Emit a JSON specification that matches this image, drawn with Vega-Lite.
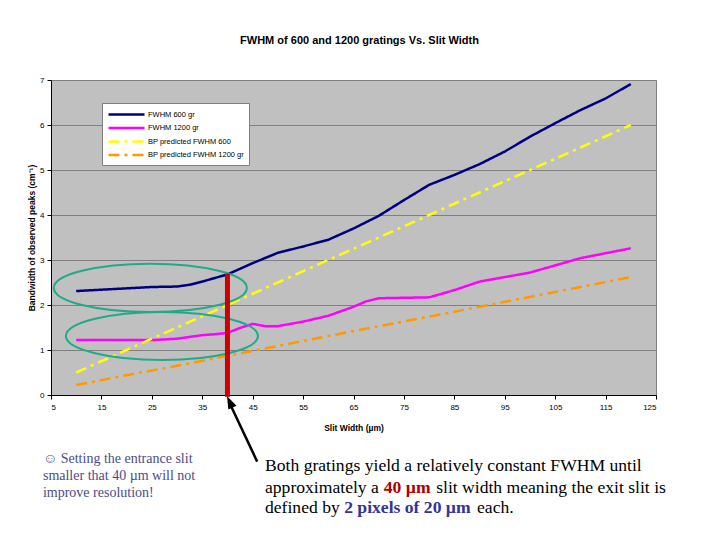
{
  "$schema": "https://vega.github.io/schema/vega-lite/v6.json",
  "width": 605,
  "height": 315,
  "autosize": {"type": "none"},
  "padding": {"left": 51, "top": 80, "right": 64, "bottom": 145},
  "background": "white",
  "config": {
    "font": "Liberation Sans",
    "view": {"fill": "#C0C0C0", "stroke": "#808080", "strokeWidth": 1},
    "axis": {
      "labelFontSize": 8, "labelColor": "black",
      "titleFontSize": 8.5, "titleFontWeight": "bold", "titleColor": "black",
      "domainColor": "black", "tickColor": "black", "tickSize": 4
    }
  },
  "title": {
    "text": "FWHM of 600 and 1200 gratings Vs. Slit Width",
    "fontSize": 11, "fontWeight": "bold", "color": "black",
    "anchor": "middle", "offset": 30, "dx": 6
  },
  "layer": [
    {
      "data": {
        "values": [
          {"series": "FWHM 600 gr", "slit": 10, "fwhm": 2.31},
          {"series": "FWHM 600 gr", "slit": 15, "fwhm": 2.34},
          {"series": "FWHM 600 gr", "slit": 20, "fwhm": 2.37},
          {"series": "FWHM 600 gr", "slit": 25, "fwhm": 2.40},
          {"series": "FWHM 600 gr", "slit": 30, "fwhm": 2.41},
          {"series": "FWHM 600 gr", "slit": 32.5, "fwhm": 2.45},
          {"series": "FWHM 600 gr", "slit": 35, "fwhm": 2.52},
          {"series": "FWHM 600 gr", "slit": 40, "fwhm": 2.68},
          {"series": "FWHM 600 gr", "slit": 45, "fwhm": 2.93},
          {"series": "FWHM 600 gr", "slit": 50, "fwhm": 3.16},
          {"series": "FWHM 600 gr", "slit": 55, "fwhm": 3.30},
          {"series": "FWHM 600 gr", "slit": 60, "fwhm": 3.45},
          {"series": "FWHM 600 gr", "slit": 65, "fwhm": 3.70},
          {"series": "FWHM 600 gr", "slit": 70, "fwhm": 3.98},
          {"series": "FWHM 600 gr", "slit": 75, "fwhm": 4.33},
          {"series": "FWHM 600 gr", "slit": 80, "fwhm": 4.67},
          {"series": "FWHM 600 gr", "slit": 85, "fwhm": 4.89},
          {"series": "FWHM 600 gr", "slit": 90, "fwhm": 5.13},
          {"series": "FWHM 600 gr", "slit": 95, "fwhm": 5.41},
          {"series": "FWHM 600 gr", "slit": 100, "fwhm": 5.74},
          {"series": "FWHM 600 gr", "slit": 105, "fwhm": 6.04},
          {"series": "FWHM 600 gr", "slit": 110, "fwhm": 6.33},
          {"series": "FWHM 600 gr", "slit": 115, "fwhm": 6.59},
          {"series": "FWHM 600 gr", "slit": 120, "fwhm": 6.91},
          {"series": "FWHM 1200 gr", "slit": 10, "fwhm": 1.22},
          {"series": "FWHM 1200 gr", "slit": 15, "fwhm": 1.22},
          {"series": "FWHM 1200 gr", "slit": 20, "fwhm": 1.22},
          {"series": "FWHM 1200 gr", "slit": 25, "fwhm": 1.22},
          {"series": "FWHM 1200 gr", "slit": 30, "fwhm": 1.25},
          {"series": "FWHM 1200 gr", "slit": 32.5, "fwhm": 1.29},
          {"series": "FWHM 1200 gr", "slit": 35, "fwhm": 1.33},
          {"series": "FWHM 1200 gr", "slit": 37.5, "fwhm": 1.35},
          {"series": "FWHM 1200 gr", "slit": 40, "fwhm": 1.38},
          {"series": "FWHM 1200 gr", "slit": 42.5, "fwhm": 1.49},
          {"series": "FWHM 1200 gr", "slit": 45, "fwhm": 1.58},
          {"series": "FWHM 1200 gr", "slit": 47.5, "fwhm": 1.53},
          {"series": "FWHM 1200 gr", "slit": 50, "fwhm": 1.53},
          {"series": "FWHM 1200 gr", "slit": 55, "fwhm": 1.63},
          {"series": "FWHM 1200 gr", "slit": 60, "fwhm": 1.76},
          {"series": "FWHM 1200 gr", "slit": 65, "fwhm": 1.96},
          {"series": "FWHM 1200 gr", "slit": 67.5, "fwhm": 2.08},
          {"series": "FWHM 1200 gr", "slit": 70, "fwhm": 2.15},
          {"series": "FWHM 1200 gr", "slit": 75, "fwhm": 2.16},
          {"series": "FWHM 1200 gr", "slit": 80, "fwhm": 2.17},
          {"series": "FWHM 1200 gr", "slit": 85, "fwhm": 2.33},
          {"series": "FWHM 1200 gr", "slit": 90, "fwhm": 2.52},
          {"series": "FWHM 1200 gr", "slit": 95, "fwhm": 2.62},
          {"series": "FWHM 1200 gr", "slit": 100, "fwhm": 2.72},
          {"series": "FWHM 1200 gr", "slit": 105, "fwhm": 2.88},
          {"series": "FWHM 1200 gr", "slit": 110, "fwhm": 3.04},
          {"series": "FWHM 1200 gr", "slit": 115, "fwhm": 3.15},
          {"series": "FWHM 1200 gr", "slit": 120, "fwhm": 3.26},
          {"series": "BP predicted FWHM 600", "slit": 10, "fwhm": 0.5},
          {"series": "BP predicted FWHM 600", "slit": 20, "fwhm": 1.0},
          {"series": "BP predicted FWHM 600", "slit": 30, "fwhm": 1.5},
          {"series": "BP predicted FWHM 600", "slit": 40, "fwhm": 2.0},
          {"series": "BP predicted FWHM 600", "slit": 50, "fwhm": 2.5},
          {"series": "BP predicted FWHM 600", "slit": 60, "fwhm": 3.0},
          {"series": "BP predicted FWHM 600", "slit": 70, "fwhm": 3.5},
          {"series": "BP predicted FWHM 600", "slit": 80, "fwhm": 4.0},
          {"series": "BP predicted FWHM 600", "slit": 90, "fwhm": 4.5},
          {"series": "BP predicted FWHM 600", "slit": 100, "fwhm": 5.0},
          {"series": "BP predicted FWHM 600", "slit": 110, "fwhm": 5.5},
          {"series": "BP predicted FWHM 600", "slit": 120, "fwhm": 6.0},
          {"series": "BP predicted FWHM 1200 gr", "slit": 10, "fwhm": 0.22},
          {"series": "BP predicted FWHM 1200 gr", "slit": 20, "fwhm": 0.44},
          {"series": "BP predicted FWHM 1200 gr", "slit": 30, "fwhm": 0.65},
          {"series": "BP predicted FWHM 1200 gr", "slit": 40, "fwhm": 0.87},
          {"series": "BP predicted FWHM 1200 gr", "slit": 50, "fwhm": 1.09},
          {"series": "BP predicted FWHM 1200 gr", "slit": 60, "fwhm": 1.31},
          {"series": "BP predicted FWHM 1200 gr", "slit": 70, "fwhm": 1.53},
          {"series": "BP predicted FWHM 1200 gr", "slit": 80, "fwhm": 1.74},
          {"series": "BP predicted FWHM 1200 gr", "slit": 90, "fwhm": 1.96},
          {"series": "BP predicted FWHM 1200 gr", "slit": 100, "fwhm": 2.18},
          {"series": "BP predicted FWHM 1200 gr", "slit": 110, "fwhm": 2.40},
          {"series": "BP predicted FWHM 1200 gr", "slit": 120, "fwhm": 2.62}
        ]
      },
      "mark": {"type": "line", "strokeWidth": 2.5},
      "encoding": {
        "x": {
          "field": "slit", "type": "quantitative",
          "scale": {"domain": [5, 125], "nice": false, "zero": false},
          "axis": {
            "title": "Slit Width (µm)", "grid": false,
            "values": [5, 15, 25, 35, 45, 55, 65, 75, 85, 95, 105, 115, 125],
            "labelPadding": 4, "titlePadding": 12
          }
        },
        "y": {
          "field": "fwhm", "type": "quantitative",
          "scale": {"domain": [0, 7], "nice": false},
          "axis": {
            "title": "Bandwidth of observed peaks (cm⁻¹)",
            "values": [0, 1, 2, 3, 4, 5, 6, 7],
            "grid": true, "gridColor": "#808080", "gridOpacity": 1,
            "labelPadding": 3, "titlePadding": 3
          }
        },
        "color": {
          "field": "series", "type": "nominal",
          "scale": {
            "domain": ["FWHM 600 gr", "FWHM 1200 gr", "BP predicted FWHM 600", "BP predicted FWHM 1200 gr"],
            "range": ["#000080", "#FF00FF", "#FFFF00", "#FF9900"]
          },
          "legend": {
            "title": null, "orient": "none", "legendX": 51, "legendY": 23,
            "fillColor": "white", "strokeColor": "#808080", "padding": 5,
            "labelFontSize": 7.5, "labelColor": "black", "labelOffset": 28, "labelLimit": 200,
            "symbolType": "M -1 0 L 6.2 0", "symbolSize": 100, "symbolStrokeWidth": 2.5, "rowPadding": 1.5
          }
        },
        "strokeDash": {
          "field": "series", "type": "nominal",
          "scale": {
            "domain": ["FWHM 600 gr", "FWHM 1200 gr", "BP predicted FWHM 600", "BP predicted FWHM 1200 gr"],
            "range": [[1, 0], [1, 0], [11, 5, 3, 5], [11, 5, 3, 5]]
          },
          "legend": {
            "title": null, "orient": "none", "legendX": 51, "legendY": 23,
            "fillColor": "white", "strokeColor": "#808080", "padding": 5,
            "labelFontSize": 7.5, "labelColor": "black", "labelOffset": 28, "labelLimit": 200,
            "symbolType": "M -1 0 L 6.2 0", "symbolSize": 100, "symbolStrokeWidth": 2.5, "rowPadding": 1.5
          }
        }
      }
    },
    {
      "data": {"values": [{}]},
      "mark": {"type": "point", "shape": "M 1 0 C 1 0.138 0.552 0.25 0 0.25 C -0.552 0.25 -1 0.138 -1 0 C -1 -0.138 -0.552 -0.25 0 -0.25 C 0.552 -0.25 1 -0.138 1 0 Z", "filled": false, "color": "#22AA88", "strokeWidth": 2, "size": 37249, "opacity": 1},
      "encoding": {"x": {"datum": 24.7}, "y": {"datum": 2.38}}
    },
    {
      "data": {"values": [{}]},
      "mark": {"type": "point", "shape": "M 1 0 C 1 0.138 0.552 0.25 0 0.25 C -0.552 0.25 -1 0.138 -1 0 C -1 -0.138 -0.552 -0.25 0 -0.25 C 0.552 -0.25 1 -0.138 1 0 Z", "filled": false, "color": "#22AA88", "strokeWidth": 2, "size": 36864, "opacity": 1},
      "encoding": {"x": {"datum": 27.0}, "y": {"datum": 1.31}}
    },
    {
      "data": {"values": [{}]},
      "mark": {"type": "rule", "color": "#CC0000", "strokeWidth": 5},
      "encoding": {"x": {"datum": 40}, "y": {"datum": -0.04}, "y2": {"datum": 2.7}}
    },
    {
      "data": {"values": [{}]},
      "mark": {"type": "rule", "color": "black", "strokeWidth": 2.5},
      "encoding": {"x": {"datum": 45.9}, "y": {"datum": -1.48}, "x2": {"datum": 40.3}, "y2": {"datum": -0.15}}
    },
    {
      "data": {"values": [{}]},
      "mark": {"type": "point", "shape": "M 0 0 L -0.45 1.3 L 0.45 1.3 Z", "filled": true, "color": "black", "size": 400, "angle": 335, "opacity": 1},
      "encoding": {"x": {"datum": 39.9}, "y": {"datum": -0.02}}
    },
    {
      "data": {"values": [{}]},
      "mark": {"type": "text", "text": ["☺  Setting the entrance slit", "smaller that 40 µm will not", "improve resolution!"], "font": "Liberation Serif", "fontSize": 14, "lineHeight": 17, "align": "left", "baseline": "alphabetic", "color": "#4B4B8B"},
      "encoding": {"x": {"datum": 3.4}, "y": {"datum": -1.51}}
    },
    {
      "data": {"values": [{}]},
      "mark": {"type": "text", "text": "Both gratings yield a relatively constant FWHM until", "font": "Liberation Serif", "fontSize": 17.6, "align": "left", "baseline": "alphabetic", "color": "black"},
      "encoding": {"x": {"datum": 47.45}, "y": {"datum": -1.678}}
    },
    {
      "data": {"values": [{}]},
      "mark": {"type": "text", "text": "approximately a", "font": "Liberation Serif", "fontSize": 17.6, "align": "left", "baseline": "alphabetic", "color": "black"},
      "encoding": {"x": {"datum": 47.45}, "y": {"datum": -2.178}}
    },
    {
      "data": {"values": [{}]},
      "mark": {"type": "text", "text": "40 µm", "font": "Liberation Serif", "fontSize": 17.6, "fontWeight": "bold", "align": "left", "baseline": "alphabetic", "color": "#B00000"},
      "encoding": {"x": {"datum": 71.0}, "y": {"datum": -2.178}}
    },
    {
      "data": {"values": [{}]},
      "mark": {"type": "text", "text": "slit width meaning the exit slit is", "font": "Liberation Serif", "fontSize": 17.6, "align": "left", "baseline": "alphabetic", "color": "black"},
      "encoding": {"x": {"datum": 81.4}, "y": {"datum": -2.178}}
    },
    {
      "data": {"values": [{}]},
      "mark": {"type": "text", "text": "defined by", "font": "Liberation Serif", "fontSize": 17.6, "align": "left", "baseline": "alphabetic", "color": "black"},
      "encoding": {"x": {"datum": 47.45}, "y": {"datum": -2.633}}
    },
    {
      "data": {"values": [{}]},
      "mark": {"type": "text", "text": "2 pixels of 20 µm", "font": "Liberation Serif", "fontSize": 17.6, "fontWeight": "bold", "align": "left", "baseline": "alphabetic", "color": "#333399"},
      "encoding": {"x": {"datum": 63.15}, "y": {"datum": -2.633}}
    },
    {
      "data": {"values": [{}]},
      "mark": {"type": "text", "text": "each.", "font": "Liberation Serif", "fontSize": 17.6, "align": "left", "baseline": "alphabetic", "color": "black"},
      "encoding": {"x": {"datum": 89.5}, "y": {"datum": -2.633}}
    }
  ]
}
